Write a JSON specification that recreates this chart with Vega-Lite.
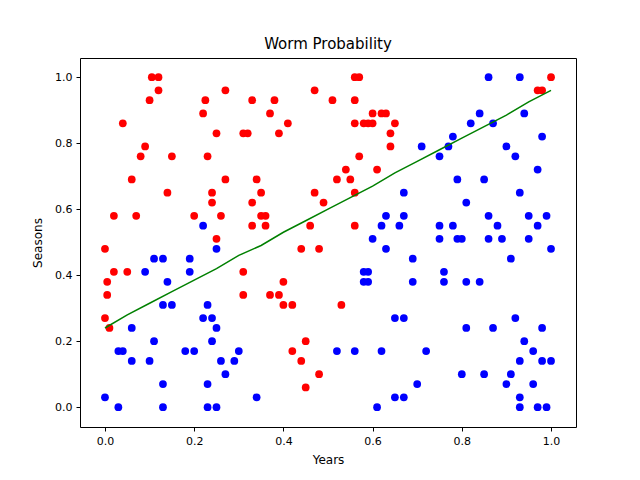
{
  "$schema": "https://vega.github.io/schema/vega-lite/v6.json",
  "width": 496,
  "height": 369,
  "autosize": "none",
  "padding": {"left": 80, "top": 58, "right": 64, "bottom": 53},
  "background": "white",
  "title": {"text": "Worm Probability", "font": "DejaVu Sans", "fontSize": 15, "fontWeight": "normal", "offset": 6},
  "config": {
    "view": {"stroke": "black", "strokeWidth": 1},
    "axis": {"grid": false, "domain": false, "tickColor": "black", "tickSize": 4, "labelFont": "DejaVu Sans", "labelFontSize": 11, "labelColor": "black", "titleFont": "DejaVu Sans", "titleFontSize": 12, "titleFontWeight": "normal", "titleColor": "black", "labelPadding": 4},
    "axisX": {"titlePadding": 8},
    "axisY": {"titlePadding": 10}
  },
  "datasets": {
    "pts": [
      {"x":0.0,"y":0.48,"c":"r"},{"x":0.0,"y":0.27,"c":"r"},{"x":0.005,"y":0.38,"c":"r"},{"x":0.005,"y":0.34,"c":"r"},{"x":0.01,"y":0.24,"c":"r"},{"x":0.02,"y":0.41,"c":"r"},{"x":0.02,"y":0.58,"c":"r"},{"x":0.04,"y":0.86,"c":"r"},{"x":0.05,"y":0.41,"c":"r"},{"x":0.06,"y":0.69,"c":"r"},{"x":0.07,"y":0.58,"c":"r"},{"x":0.08,"y":0.76,"c":"r"},{"x":0.09,"y":0.79,"c":"r"},{"x":0.1,"y":0.93,"c":"r"},{"x":0.105,"y":1.0,"c":"r"},{"x":0.12,"y":1.0,"c":"r"},{"x":0.12,"y":0.96,"c":"r"},{"x":0.14,"y":0.65,"c":"r"},{"x":0.15,"y":0.76,"c":"r"},{"x":0.2,"y":0.58,"c":"r"},{"x":0.22,"y":0.89,"c":"r"},{"x":0.225,"y":0.93,"c":"r"},{"x":0.23,"y":0.76,"c":"r"},{"x":0.24,"y":0.62,"c":"r"},{"x":0.24,"y":0.65,"c":"r"},{"x":0.25,"y":0.51,"c":"r"},{"x":0.25,"y":0.83,"c":"r"},{"x":0.26,"y":0.58,"c":"r"},{"x":0.27,"y":0.69,"c":"r"},{"x":0.27,"y":0.96,"c":"r"},{"x":0.31,"y":0.41,"c":"r"},{"x":0.31,"y":0.34,"c":"r"},{"x":0.31,"y":0.83,"c":"r"},{"x":0.32,"y":0.83,"c":"r"},{"x":0.33,"y":0.93,"c":"r"},{"x":0.33,"y":0.62,"c":"r"},{"x":0.33,"y":0.55,"c":"r"},{"x":0.34,"y":0.69,"c":"r"},{"x":0.35,"y":0.58,"c":"r"},{"x":0.35,"y":0.65,"c":"r"},{"x":0.36,"y":0.58,"c":"r"},{"x":0.36,"y":0.55,"c":"r"},{"x":0.37,"y":0.89,"c":"r"},{"x":0.37,"y":0.34,"c":"r"},{"x":0.38,"y":0.93,"c":"r"},{"x":0.39,"y":0.83,"c":"r"},{"x":0.39,"y":0.34,"c":"r"},{"x":0.4,"y":0.38,"c":"r"},{"x":0.4,"y":0.31,"c":"r"},{"x":0.41,"y":0.86,"c":"r"},{"x":0.42,"y":0.31,"c":"r"},{"x":0.42,"y":0.17,"c":"r"},{"x":0.44,"y":0.48,"c":"r"},{"x":0.44,"y":0.14,"c":"r"},{"x":0.45,"y":0.2,"c":"r"},{"x":0.45,"y":0.06,"c":"r"},{"x":0.46,"y":0.55,"c":"r"},{"x":0.47,"y":0.96,"c":"r"},{"x":0.47,"y":0.65,"c":"r"},{"x":0.48,"y":0.48,"c":"r"},{"x":0.48,"y":0.1,"c":"r"},{"x":0.49,"y":0.62,"c":"r"},{"x":0.51,"y":0.93,"c":"r"},{"x":0.52,"y":0.69,"c":"r"},{"x":0.53,"y":0.31,"c":"r"},{"x":0.54,"y":0.72,"c":"r"},{"x":0.55,"y":0.69,"c":"r"},{"x":0.56,"y":0.65,"c":"r"},{"x":0.56,"y":0.55,"c":"r"},{"x":0.56,"y":1.0,"c":"r"},{"x":0.57,"y":1.0,"c":"r"},{"x":0.56,"y":0.93,"c":"r"},{"x":0.56,"y":0.86,"c":"r"},{"x":0.57,"y":0.76,"c":"r"},{"x":0.58,"y":0.86,"c":"r"},{"x":0.59,"y":0.86,"c":"r"},{"x":0.6,"y":0.89,"c":"r"},{"x":0.6,"y":0.86,"c":"r"},{"x":0.61,"y":0.72,"c":"r"},{"x":0.62,"y":0.89,"c":"r"},{"x":0.63,"y":0.89,"c":"r"},{"x":0.64,"y":0.83,"c":"r"},{"x":0.65,"y":0.86,"c":"r"},{"x":0.64,"y":0.79,"c":"r"},{"x":0.97,"y":0.96,"c":"r"},{"x":0.98,"y":0.96,"c":"r"},{"x":1.0,"y":1.0,"c":"r"},
      {"x":0.0,"y":0.03,"c":"b"},{"x":0.03,"y":0.17,"c":"b"},{"x":0.03,"y":0.0,"c":"b"},{"x":0.04,"y":0.17,"c":"b"},{"x":0.06,"y":0.24,"c":"b"},{"x":0.06,"y":0.14,"c":"b"},{"x":0.09,"y":0.41,"c":"b"},{"x":0.1,"y":0.14,"c":"b"},{"x":0.11,"y":0.45,"c":"b"},{"x":0.11,"y":0.2,"c":"b"},{"x":0.13,"y":0.45,"c":"b"},{"x":0.13,"y":0.31,"c":"b"},{"x":0.13,"y":0.07,"c":"b"},{"x":0.13,"y":0.0,"c":"b"},{"x":0.14,"y":0.38,"c":"b"},{"x":0.15,"y":0.31,"c":"b"},{"x":0.18,"y":0.17,"c":"b"},{"x":0.19,"y":0.45,"c":"b"},{"x":0.19,"y":0.41,"c":"b"},{"x":0.2,"y":0.17,"c":"b"},{"x":0.22,"y":0.55,"c":"b"},{"x":0.22,"y":0.27,"c":"b"},{"x":0.23,"y":0.31,"c":"b"},{"x":0.23,"y":0.07,"c":"b"},{"x":0.23,"y":0.0,"c":"b"},{"x":0.24,"y":0.27,"c":"b"},{"x":0.24,"y":0.2,"c":"b"},{"x":0.25,"y":0.0,"c":"b"},{"x":0.25,"y":0.48,"c":"b"},{"x":0.25,"y":0.24,"c":"b"},{"x":0.26,"y":0.14,"c":"b"},{"x":0.27,"y":0.1,"c":"b"},{"x":0.29,"y":0.14,"c":"b"},{"x":0.3,"y":0.17,"c":"b"},{"x":0.34,"y":0.03,"c":"b"},{"x":0.52,"y":0.17,"c":"b"},{"x":0.56,"y":0.17,"c":"b"},{"x":0.58,"y":0.41,"c":"b"},{"x":0.58,"y":0.38,"c":"b"},{"x":0.59,"y":0.41,"c":"b"},{"x":0.59,"y":0.38,"c":"b"},{"x":0.6,"y":0.51,"c":"b"},{"x":0.61,"y":0.0,"c":"b"},{"x":0.62,"y":0.17,"c":"b"},{"x":0.62,"y":0.55,"c":"b"},{"x":0.63,"y":0.58,"c":"b"},{"x":0.63,"y":0.48,"c":"b"},{"x":0.65,"y":0.27,"c":"b"},{"x":0.65,"y":0.03,"c":"b"},{"x":0.66,"y":0.55,"c":"b"},{"x":0.67,"y":0.65,"c":"b"},{"x":0.67,"y":0.58,"c":"b"},{"x":0.67,"y":0.27,"c":"b"},{"x":0.67,"y":0.03,"c":"b"},{"x":0.69,"y":0.45,"c":"b"},{"x":0.69,"y":0.38,"c":"b"},{"x":0.7,"y":0.07,"c":"b"},{"x":0.71,"y":0.79,"c":"b"},{"x":0.72,"y":0.17,"c":"b"},{"x":0.75,"y":0.55,"c":"b"},{"x":0.75,"y":0.51,"c":"b"},{"x":0.75,"y":0.76,"c":"b"},{"x":0.76,"y":0.41,"c":"b"},{"x":0.76,"y":0.38,"c":"b"},{"x":0.77,"y":0.79,"c":"b"},{"x":0.78,"y":0.55,"c":"b"},{"x":0.78,"y":0.82,"c":"b"},{"x":0.79,"y":0.51,"c":"b"},{"x":0.79,"y":0.69,"c":"b"},{"x":0.8,"y":0.51,"c":"b"},{"x":0.8,"y":0.1,"c":"b"},{"x":0.81,"y":0.62,"c":"b"},{"x":0.81,"y":0.24,"c":"b"},{"x":0.81,"y":0.38,"c":"b"},{"x":0.82,"y":0.86,"c":"b"},{"x":0.84,"y":0.89,"c":"b"},{"x":0.84,"y":0.38,"c":"b"},{"x":0.85,"y":0.1,"c":"b"},{"x":0.85,"y":0.69,"c":"b"},{"x":0.86,"y":1.0,"c":"b"},{"x":0.86,"y":0.58,"c":"b"},{"x":0.86,"y":0.51,"c":"b"},{"x":0.87,"y":0.86,"c":"b"},{"x":0.87,"y":0.24,"c":"b"},{"x":0.88,"y":0.55,"c":"b"},{"x":0.89,"y":0.51,"c":"b"},{"x":0.9,"y":0.07,"c":"b"},{"x":0.9,"y":0.79,"c":"b"},{"x":0.91,"y":0.45,"c":"b"},{"x":0.91,"y":0.1,"c":"b"},{"x":0.92,"y":0.27,"c":"b"},{"x":0.92,"y":0.76,"c":"b"},{"x":0.93,"y":1.0,"c":"b"},{"x":0.93,"y":0.65,"c":"b"},{"x":0.93,"y":0.03,"c":"b"},{"x":0.93,"y":0.0,"c":"b"},{"x":0.93,"y":0.14,"c":"b"},{"x":0.94,"y":0.89,"c":"b"},{"x":0.94,"y":0.2,"c":"b"},{"x":0.95,"y":0.58,"c":"b"},{"x":0.95,"y":0.51,"c":"b"},{"x":0.96,"y":0.07,"c":"b"},{"x":0.96,"y":0.17,"c":"b"},{"x":0.97,"y":0.72,"c":"b"},{"x":0.97,"y":0.55,"c":"b"},{"x":0.97,"y":0.0,"c":"b"},{"x":0.98,"y":0.14,"c":"b"},{"x":0.98,"y":0.82,"c":"b"},{"x":0.98,"y":0.24,"c":"b"},{"x":0.99,"y":0.0,"c":"b"},{"x":0.99,"y":0.58,"c":"b"},{"x":1.0,"y":0.48,"c":"b"},{"x":1.0,"y":0.14,"c":"b"}
    ],
    "line": [
      {"x":0.0,"y":0.24},{"x":0.05,"y":0.28},{"x":0.1,"y":0.315},{"x":0.15,"y":0.35},{"x":0.2,"y":0.385},{"x":0.25,"y":0.42},{"x":0.3,"y":0.46},{"x":0.35,"y":0.49},{"x":0.4,"y":0.53},{"x":0.45,"y":0.565},{"x":0.5,"y":0.6},{"x":0.55,"y":0.635},{"x":0.6,"y":0.67},{"x":0.65,"y":0.71},{"x":0.7,"y":0.745},{"x":0.75,"y":0.78},{"x":0.8,"y":0.815},{"x":0.85,"y":0.85},{"x":0.9,"y":0.885},{"x":0.95,"y":0.925},{"x":1.0,"y":0.96}
    ]
  },
  "encoding": {
    "x": {"field": "x", "type": "quantitative", "title": "Years", "scale": {"domain": [-0.056, 1.056], "nice": false, "zero": false}, "axis": {"values": [0, 0.2, 0.4, 0.6, 0.8, 1.0], "format": ".1f"}},
    "y": {"field": "y", "type": "quantitative", "title": "Seasons", "scale": {"domain": [-0.06, 1.058], "nice": false, "zero": false}, "axis": {"values": [0, 0.2, 0.4, 0.6, 0.8, 1.0], "format": ".1f"}}
  },
  "layer": [
    {
      "data": {"name": "pts"},
      "mark": {"type": "circle", "size": 60, "opacity": 1},
      "encoding": {"color": {"field": "c", "type": "nominal", "scale": {"domain": ["r", "b"], "range": ["#ff0000", "#0000ff"]}, "legend": null}}
    },
    {
      "data": {"name": "line"},
      "mark": {"type": "line", "color": "#008000", "strokeWidth": 1.5},
      "encoding": {}
    }
  ]
}
